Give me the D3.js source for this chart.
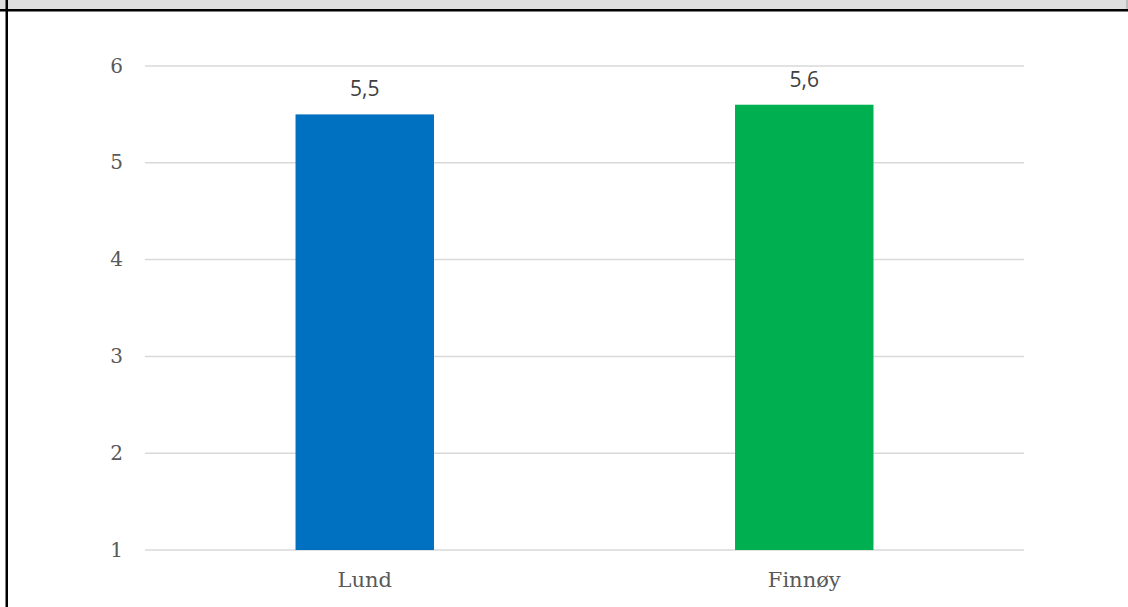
<!DOCTYPE html>
<html>
<head>
<meta charset="utf-8">
<script src="https://cdn.jsdelivr.net/npm/d3@7"></script>
<style>
  html, body { margin: 0; padding: 0; background: #fff; }
  svg { display: block; }
</style>
</head>
<body>
<svg id="chart" width="1128" height="607"></svg>
<script>
// Chart data
const categories = ["Lund", "Finnøy"];
const values = [5.5, 5.6];
const barColors = ["#0070C0", "#00B050"];
const yTicks = [1, 2, 3, 4, 5, 6];

const W = 1128, H = 607;
const svg = d3.select("#chart");

// Frame: grey header strip, black rule under it and black left edge
svg.append("rect").attr("x", 0).attr("y", 0).attr("width", W).attr("height", 9).attr("fill", "#dedede");
svg.append("line").attr("x1", 1127).attr("x2", 1127).attr("y1", 0).attr("y2", 9)
  .attr("stroke", "#9a9a9a").attr("stroke-width", 1);
svg.append("rect").attr("x", 0).attr("y", 9).attr("width", W).attr("height", 2.5).attr("fill", "#000");
svg.append("rect").attr("x", 5.5).attr("y", 0).attr("width", 2.5).attr("height", H).attr("fill", "#000");

const plot = { left: 145, right: 1024, top: 66, bottom: 550 };

const x = d3.scaleBand().domain(categories).range([plot.left, plot.right]).padding(0);
const y = d3.scaleLinear().domain([1, 6]).range([plot.bottom, plot.top]);

// Horizontal gridlines
svg.append("g").selectAll("line").data(yTicks).join("line")
  .attr("x1", plot.left).attr("x2", plot.right)
  .attr("y1", d => y(d)).attr("y2", d => y(d))
  .attr("stroke", "#d9d9d9").attr("stroke-width", 1.5);

// Y axis labels
const yAxis = d3.axisLeft(y).tickValues(yTicks).tickSize(0).tickPadding(0).tickFormat(d3.format("d"));
const gy = svg.append("g").attr("transform", `translate(123,0)`).call(yAxis);
gy.select(".domain").remove();
gy.selectAll("text")
  .attr("dy", "0.3em")
  .attr("font-family", "'DejaVu Serif', serif").attr("font-size", 20).attr("fill", "#595959");

// Bars
const barFrac = 0.315;
const bw = x.bandwidth() * barFrac;
svg.append("g").selectAll("rect").data(categories).join("rect")
  .attr("x", d => x(d) + (x.bandwidth() - bw) / 2)
  .attr("width", bw)
  .attr("y", (d, i) => y(values[i]))
  .attr("height", (d, i) => y(1) - y(values[i]))
  .attr("fill", (d, i) => barColors[i]);

// Value labels
const fmt = v => d3.format(".1f")(v).replace(".", ",");
svg.append("g").selectAll("text").data(categories).join("text")
  .attr("x", d => x(d) + x.bandwidth() / 2)
  .attr("y", (d, i) => y(values[i]) - 18)
  .attr("text-anchor", "middle")
  .attr("font-family", "'Open Sans', sans-serif").attr("font-size", 21).attr("fill", "#404040")
  .text((d, i) => fmt(values[i]));

// X axis labels
const xAxis = d3.axisBottom(x).tickSize(0).tickPadding(0);
const gx = svg.append("g").attr("transform", `translate(0,${plot.bottom})`).call(xAxis);
gx.select(".domain").remove();
gx.selectAll("text")
  .attr("dy", null).attr("y", 37)
  .attr("font-family", "'DejaVu Serif', serif").attr("font-size", 21).attr("fill", "#595959");
</script>
</body>
</html>
